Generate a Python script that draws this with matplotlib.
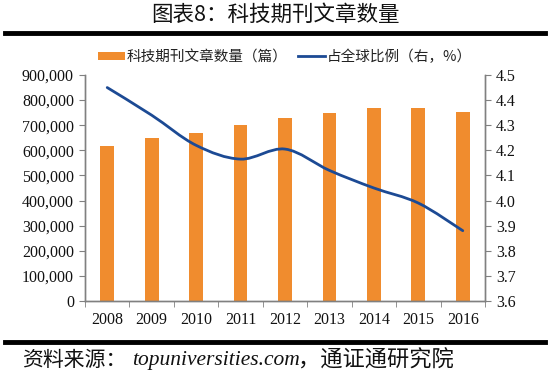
import numpy as np
import matplotlib
matplotlib.use("Agg")
import matplotlib.pyplot as plt
from matplotlib.path import Path
from matplotlib.patches import PathPatch
from matplotlib.lines import Line2D
from matplotlib.patches import Patch
from matplotlib.ticker import FuncFormatter

years = ["2008", "2009", "2010", "2011", "2012", "2013", "2014", "2015", "2016"]
articles = [617000, 648000, 668000, 699000, 730000, 750000, 770000, 768000, 752000]
share = [4.45, 4.34, 4.22, 4.165, 4.205, 4.12, 4.05, 3.99, 3.88]

cjk = ["Noto Sans CJK SC", "DejaVu Sans"]
serif = ["Liberation Serif", "DejaVu Serif"]
orange = "#F08C2E"
blue = "#1C4A94"
gray = "#808080"

fig = plt.figure(figsize=(5.5, 3.75), dpi=100)
ax = fig.add_axes([85/550, 1-301/375, 400/550, 226/375])
ax2 = ax.twinx()

x = np.arange(len(years))
ax.bar(x, articles, width=0.31, color=orange, zorder=2)
ax.set_xlim(-0.5, len(years) - 0.5)
ax.set_ylim(0, 900000)
ax.set_yticks(np.arange(0, 900001, 100000))
ax.yaxis.set_major_formatter(FuncFormatter(lambda v, p: f"{int(v):,}"))
ax.set_xticks(x)
ax.set_xticklabels(years)
ax.set_xticks(np.arange(-0.5, len(years), 1), minor=True)
ax.tick_params(axis="x", which="major", length=0, pad=8)
ax.tick_params(axis="x", which="minor", length=4, direction="out", color=gray)
ax.tick_params(axis="y", length=4, direction="out", color=gray, pad=4)

ax2.set_ylim(3.6, 4.5)
ax2.set_yticks(np.arange(3.6, 4.51, 0.1))
ax2.yaxis.set_major_formatter(FuncFormatter(lambda v, p: f"{v:.1f}"))
ax2.tick_params(axis="y", length=4, direction="out", color=gray, pad=4)

for a in (ax, ax2):
    a.spines["top"].set_visible(False)
    for s in ("left", "right", "bottom"):
        a.spines[s].set_color(gray)
        a.spines[s].set_linewidth(1.0)
    for lab in a.get_xticklabels() + a.get_yticklabels():
        lab.set_family(serif)
        lab.set_fontsize(11.5)
        lab.set_color("#111111")

# smoothed line (Bezier through the data points, like a spreadsheet smooth line)
pts = np.column_stack([x, share]).astype(float)
verts = [tuple(pts[0])]
codes = [Path.MOVETO]
n = len(pts)
for i in range(n - 1):
    p0 = pts[i - 1] if i > 0 else pts[i]
    p1 = pts[i]
    p2 = pts[i + 1]
    p3 = pts[i + 2] if i + 2 < n else pts[i + 1]
    c1 = p1 + (p2 - p0) / 6.0
    c2 = p2 - (p3 - p1) / 6.0
    verts += [tuple(c1), tuple(c2), tuple(p2)]
    codes += [Path.CURVE4] * 3
ax2.add_patch(PathPatch(Path(verts, codes), facecolor="none", edgecolor=blue,
                        linewidth=2.0, zorder=3, capstyle="round"))

handles = [Patch(facecolor=orange, edgecolor="none"),
           Line2D([0], [0], color=blue, linewidth=2.0)]
leg = fig.legend(handles, ["科技期刊文章数量（篇）", "占全球比例（右，%）"],
                 loc="center", bbox_to_anchor=(285/550, 1 - 57/375), ncol=2, frameon=False,
                 prop={"family": cjk, "size": 10.5}, handlelength=1.85, handleheight=0.55,
                 columnspacing=0.7, handletextpad=0.15)
for t in leg.get_texts():
    t.set_color("#222222")

fig.text(0.5, 1 - 15/375, "图表8：科技期刊文章数量", ha="center", va="center",
         fontsize=15.5, family=cjk, color="#111111")
fig.add_artist(Line2D([5/550, 545/550], [1 - 33/375, 1 - 33/375], color="black", linewidth=3.5))
fig.add_artist(Line2D([5/550, 545/550], [1 - 342/375, 1 - 342/375], color="black", linewidth=3.5))

src_y = 1 - 360/375
fig.text(22/550, src_y, "资料来源：", ha="left", va="center",
         fontsize=15, family=cjk, color="#111111")
fig.text(132/550, src_y, "topuniversities.com", ha="left", va="center",
         fontsize=15.5, family=serif, style="italic", color="#111111")
fig.text(298/550, src_y, "，通证通研究院", ha="left", va="center",
         fontsize=16, family=cjk, color="#111111")

fig.savefig("out.png", dpi=100, facecolor="white")
